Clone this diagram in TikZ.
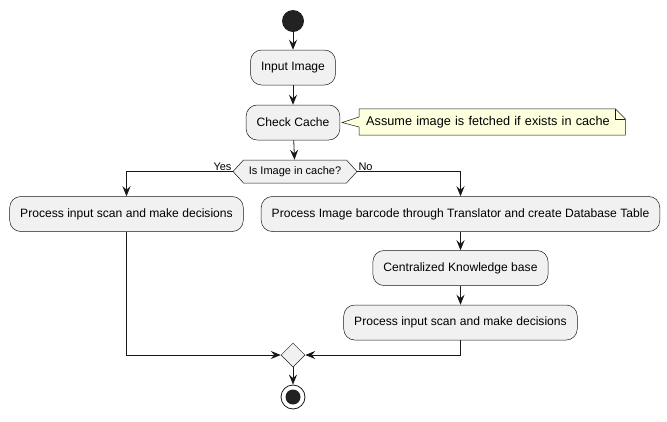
\documentclass[tikz,border=0pt]{standalone}
\usepackage{fontspec}
\setmainfont{Liberation Sans}
\usetikzlibrary{arrows.meta,shapes.geometric,shapes.symbols}
\definecolor{boxfill}{HTML}{F1F1F1}
\definecolor{boxline}{HTML}{181818}
\definecolor{notefill}{HTML}{FEFFDD}
\definecolor{dotfill}{HTML}{222222}
\pgfdeclarelayer{bg}
\pgfsetlayers{bg,main}
\begin{document}
\begin{tikzpicture}
    [x=1pt, y=-1pt,
     action/.style={draw=boxline, fill=boxfill, line width=0.5pt, rounded corners=11pt,
       minimum height=35pt, inner xsep=10.5pt, font=\fontsize{12.1}{14}\selectfont},
     flow/.style={-{Stealth[length=10pt,width=8pt,inset=3.5pt]}, line width=0.8pt, boxline},
     small/.style={font=\fontsize{11}{13}\selectfont, inner sep=1pt}]
    \useasboundingbox (0,0) rectangle (667,421);
    \def \axis {293}

    \node[circle, fill=dotfill, minimum size=22pt, inner sep=0pt] (start) at (\axis,21) {};
    \node[action] (inimg) at (\axis,67.5) {Input Image};
    \node[action] (cache) at (\axis,122.5) {Check Cache};
    \node[anchor=west, text width=252pt, inner xsep=7pt, minimum height=26pt,
      font=\fontsize{12.7}{14}\selectfont] (note) at (359,122) {Assume image is fetched if exists in cache};
    \begin{pgfonlayer}{bg}
      \draw[boxline, fill=notefill, line width=0.5pt] (note.north west) -- ([xshift=-10pt]note.north east)
        -- ([yshift=-10pt]note.north east) -- (note.south east) -- (note.south west)
        -- ([yshift=-5pt]note.west) -- ([xshift=2pt]cache.east) -- ([yshift=5pt]note.west) -- cycle;
      \draw[boxline, line width=0.5pt] ([xshift=-10pt]note.north east) |- ([yshift=-10pt]note.north east);
    \end{pgfonlayer}

    \node[signal, signal to=west and east, signal pointer angle=95, draw=boxline, fill=boxfill,
      line width=0.5pt, minimum width=124pt, minimum height=23pt, inner sep=1pt,
      font=\fontsize{11}{13}\selectfont] (dec) at (295,171.5) {Is Image in cache?};
    \node[small, anchor=south east] (yes) at (dec.west) {Yes};
    \node[small, anchor=south west] (no) at (dec.east) {No};

    \node[action] (left) at (126.5,214) {Process input scan and make decisions};
    \node[action] (right) at (460.5,214) {Process Image barcode through Translator and create Database Table};
    \node[action] (cent) at (460.5,268) {Centralized Knowledge base};
    \node[action] (proc2) at (460.5,322.5) {Process input scan and make decisions};

    \node[diamond, draw=boxline, fill=boxfill, line width=0.5pt, minimum size=24pt, inner sep=0pt] (merge) at (\axis,355) {};
    \node[circle, draw=boxline, fill=white, line width=0.8pt, minimum size=24pt, inner sep=0pt] (stop) at (\axis,397) {};
    \node[circle, fill=dotfill, minimum size=15pt, inner sep=0pt] (stopdot) at (stop) {};

    \draw[flow] (start) -- (inimg);
    \draw[flow] (inimg) -- (cache);
    \draw[flow] (cache) -- (dec);
    \draw[flow] (dec.west) -| (left);
    \draw[flow] (dec.east) -| (right);
    \draw[flow] (right) -- (cent);
    \draw[flow] (cent) -- (proc2);
    \draw[flow] (left) |- (merge);
    \draw[flow] (proc2) |- (merge);
    \draw[flow] (merge) -- (stop);
  \end{tikzpicture}
\end{document}
